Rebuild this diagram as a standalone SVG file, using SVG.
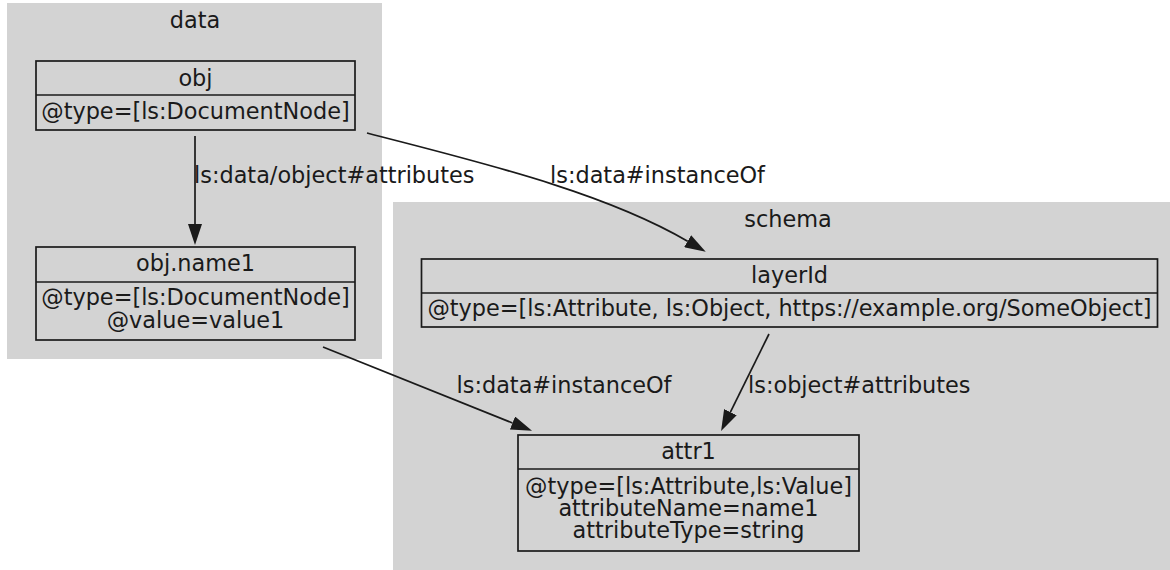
<svg xmlns="http://www.w3.org/2000/svg" width="1170" height="570" viewBox="0 0 1170 570">
  <style>
    .cluster { fill: #d3d3d3; stroke: none; }
    .box { fill: none; stroke: #1a1a1a; stroke-width: 1.7; }
    .sep { stroke: #1a1a1a; stroke-width: 1.7; }
    text { font-family: "DejaVu Sans", "Liberation Sans", sans-serif; font-size: 22.4px; fill: #1a1a1a; }
    .c { text-anchor: middle; }
    .edge { fill: none; stroke: #1a1a1a; stroke-width: 1.7; marker-end: url(#arrow); }
  </style>
  <defs>
    <marker id="arrow" viewBox="0 0 21 14" refX="0" refY="7" markerUnits="userSpaceOnUse" markerWidth="21" markerHeight="14" orient="auto">
      <path d="M0,0 L21,7 L0,14 z" fill="#1a1a1a"/>
    </marker>
  </defs>

  <rect width="1170" height="570" fill="#ffffff"/>

  <!-- clusters -->
  <g id="cluster-data">
    <rect class="cluster" x="7" y="3" width="375" height="356"/>
    <text class="c" x="195" y="28">data</text>
  </g>
  <g id="cluster-schema">
    <rect class="cluster" x="393" y="202" width="777" height="368"/>
    <text class="c" x="788" y="227">schema</text>
  </g>

  <!-- record nodes -->
  <g id="node-obj">
    <rect class="box" x="36" y="61" width="319" height="69"/>
    <line class="sep" x1="36" y1="95" x2="355" y2="95"/>
    <text class="c" x="195.5" y="86">obj</text>
    <text class="c" x="195.5" y="119">@type=[ls:DocumentNode]</text>
  </g>

  <g id="node-obj-name1">
    <rect class="box" x="36" y="247" width="319" height="93"/>
    <line class="sep" x1="36" y1="282" x2="355" y2="282"/>
    <text class="c" x="195.5" y="271">obj.name1</text>
    <text class="c" x="195.5" y="305">@type=[ls:DocumentNode]<tspan x="195.5" dy="23">@value=value1</tspan></text>
  </g>

  <g id="node-layerId">
    <rect class="box" x="421.5" y="259" width="736" height="68"/>
    <line class="sep" x1="421.5" y1="293" x2="1157.5" y2="293"/>
    <text class="c" x="789.5" y="283">layerId</text>
    <text class="c" x="789.5" y="316">@type=[ls:Attribute, ls:Object, https://example.org/SomeObject]</text>
  </g>

  <g id="node-attr1">
    <rect class="box" x="518" y="435" width="341" height="116"/>
    <line class="sep" x1="518" y1="469" x2="859" y2="469"/>
    <text class="c" x="688.5" y="459">attr1</text>
    <text class="c" x="688.5" y="494">@type=[ls:Attribute,ls:Value]<tspan x="688.5" dy="22">attributeName=name1</tspan><tspan x="688.5" dy="22">attributeType=string</tspan></text>
  </g>

  <!-- connectors -->
  <g id="edges">
    <path class="edge" d="M195,136 L195,224"/>
    <text x="194" y="183">ls:data/object#attributes</text>

    <path class="edge" d="M367,133 C470,160 600,190 687.6,241.2"/>
    <text x="550" y="183">ls:data#instanceOf</text>

    <path class="edge" d="M323,347 L512.5,423"/>
    <text x="456.5" y="393">ls:data#instanceOf</text>

    <path class="edge" d="M769,334 L730.4,412.2"/>
    <text x="748" y="393">ls:object#attributes</text>
  </g>
</svg>
